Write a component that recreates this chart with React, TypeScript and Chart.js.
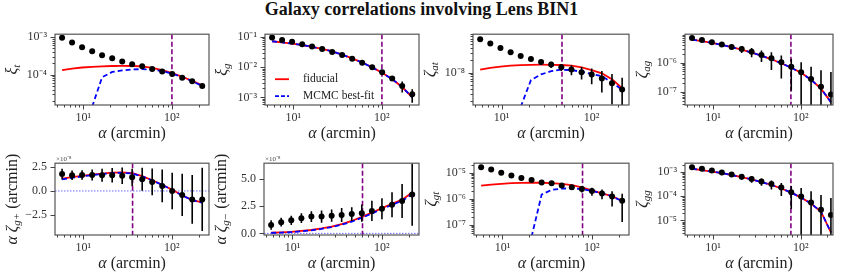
import React, { useEffect, useRef } from "react";
import { Chart, registerables } from "chart.js";

Chart.register(...registerables);

const SERIF = '"Liberation Serif", "Times New Roman", serif';

// angular bins (arcmin)
const alpha = [5.77, 7.48, 9.70, 12.6, 16.3, 21.2, 27.5, 35.6, 46.2, 59.9, 77.7, 100.7, 130.6, 169.4, 219.7];

// xi_t
const xiT = [9.6e-4, 7.2e-4, 5.4e-4, 4.2e-4, 3.3e-4, 2.75e-4, 2.25e-4, 1.9e-4, 1.67e-4, 1.42e-4, 1.22e-4, 1.04e-4, 8.3e-5, 6.7e-5, 5.0e-5];
const xiTErr = [1.9e-5, 1.4e-5, 1.1e-5, 8e-6, 6.6e-6, 5.5e-6, 4.5e-6, 3.8e-6, 3.3e-6, 2.8e-6, 2.4e-6, 2.1e-6, 1.7e-6, 1.5e-6, 1.3e-6];
const xiTFid = [1.32e-4, 1.45e-4, 1.55e-4, 1.62e-4, 1.67e-4, 1.7e-4, 1.71e-4, 1.7e-4, 1.66e-4, 1.52e-4, 1.32e-4, 1.1e-4, 8.8e-5, 6.8e-5, 5.2e-5];
const xiTFit = [null, null, null, 1.4e-5, 8.5e-5, 1.18e-4, 1.3e-4, 1.38e-4, 1.4e-4, 1.37e-4, 1.25e-4, 1.06e-4, 8.6e-5, 6.7e-5, 5.0e-5];

// xi_g
const xiG = [9.5e-2, 7.9e-2, 6.9e-2, 5.75e-2, 4.8e-2, 4.0e-2, 3.16e-2, 2.5e-2, 1.9e-2, 1.41e-2, 1.0e-2, 6.8e-3, 4.2e-3, 2.4e-3, 1.26e-3];
const xiGErr = [3.8e-3, 3.2e-3, 2.8e-3, 2.3e-3, 1.9e-3, 1.6e-3, 1.6e-3, 1.25e-3, 1.1e-3, 1.0e-3, 8e-4, 6.8e-4, 6.7e-4, 9.6e-4, 5.9e-4];
const xiGFid = [7.2e-2, 6.6e-2, 6.0e-2, 5.4e-2, 4.7e-2, 4.0e-2, 3.3e-2, 2.6e-2, 1.95e-2, 1.42e-2, 9.8e-3, 6.5e-3, 4.0e-3, 2.2e-3, 1.0e-3];
const xiGFit = [7.2e-2, 6.6e-2, 6.0e-2, 5.4e-2, 4.7e-2, 4.0e-2, 3.3e-2, 2.6e-2, 1.95e-2, 1.42e-2, 9.8e-3, 6.5e-3, 4.0e-3, 2.2e-3, 1.0e-3];

// zeta_at
const zetaAt = [6.7e-8, 5.3e-8, 4.07e-8, 3.19e-8, 2.6e-8, 2.18e-8, 1.83e-8, 1.58e-8, 1.36e-8, 1.19e-8, 1.02e-8, 8.9e-9, 7.1e-9, 5.4e-9, 3.8e-9];
const zetaAtErr = [6.7e-9, 5.3e-9, 4.1e-9, 3.5e-9, 3.1e-9, 2.8e-9, 2.6e-9, 2.8e-9, 2.7e-9, 3.3e-9, 3.5e-9, 3.8e-9, 3.9e-9, 3.8e-9, 3.6e-9];
const zetaAtFid = [1.19e-8, 1.3e-8, 1.4e-8, 1.48e-8, 1.53e-8, 1.56e-8, 1.57e-8, 1.56e-8, 1.54e-8, 1.48e-8, 1.35e-8, 1.15e-8, 9.6e-9, 6.8e-9, 4.1e-9];
const zetaAtFit = [null, null, null, null, 1.4e-9, 6.5e-9, 9.0e-9, 1.08e-8, 1.18e-8, 1.15e-8, 1.05e-8, 9.3e-9, 8.1e-9, 5.7e-9, 3.7e-9];

// zeta_ag
const zetaAg = [6.95e-6, 5.86e-6, 4.95e-6, 4.18e-6, 3.44e-6, 2.9e-6, 2.33e-6, 1.83e-6, 1.4e-6, 1.02e-6, 7.3e-7, 4.7e-7, 2.77e-7, 1.5e-7, 8.2e-8];
const zetaAgErr = [4.9e-7, 5.9e-7, 6.9e-7, 7.9e-7, 7.6e-7, 7.8e-7, 8.2e-7, 7.7e-7, 8.4e-7, 7.3e-7, 6.2e-7, 5.6e-7, 4.4e-7, 4.05e-7, 4.0e-7];
const zetaAgFid = [6.1e-6, 5.4e-6, 4.7e-6, 4.0e-6, 3.35e-6, 2.75e-6, 2.2e-6, 1.72e-6, 1.3e-6, 9.5e-7, 6.7e-7, 4.5e-7, 2.6e-7, 1.3e-7, 4.5e-8];
const zetaAgFit = [6.1e-6, 5.4e-6, 4.7e-6, 4.0e-6, 3.35e-6, 2.75e-6, 2.2e-6, 1.72e-6, 1.3e-6, 9.5e-7, 6.7e-7, 4.5e-7, 2.6e-7, 1.3e-7, 4.5e-8];

// alpha * zeta_g+  (x 1e-8)
const gPlus = [1.76, 1.64, 1.67, 1.67, 1.64, 1.64, 1.60, 1.42, 1.23, 0.94, 0.53, 0.0, -0.41, -0.88, -0.88];
const gPlusErr = [0.55, 0.5, 0.5, 0.58, 0.69, 0.75, 0.86, 0.9, 1.2, 1.4, 1.7, 1.9, 2.2, 2.55, 3.3];
const gPlusFid = [1.3, 1.45, 1.58, 1.7, 1.82, 1.92, 1.95, 1.85, 1.55, 1.12, 0.65, 0.12, -0.45, -0.95, -1.2];
const gPlusFit = [1.2, 1.37, 1.52, 1.65, 1.77, 1.87, 1.9, 1.82, 1.52, 1.1, 0.63, 0.1, -0.47, -0.97, -1.22];

// alpha * zeta_g-  (x 1e-8)
const gMinus = [0.77, 1.03, 1.2, 1.4, 1.54, 1.54, 1.63, 1.69, 1.77, 1.86, 2.06, 2.26, 2.63, 2.97, 3.57];
const gMinusErr = [0.43, 0.4, 0.43, 0.44, 0.5, 0.57, 0.57, 0.64, 0.63, 0.8, 0.93, 0.97, 1.14, 1.56, 2.86];
const gMinusFid = [0.06, 0.09, 0.14, 0.22, 0.31, 0.45, 0.63, 0.86, 1.14, 1.52, 1.9, 2.32, 2.72, 3.1, 3.75];
const gMinusFit = [0.04, 0.07, 0.12, 0.19, 0.28, 0.41, 0.58, 0.8, 1.07, 1.44, 1.82, 2.24, 2.62, 3.0, 3.6];

// zeta_gt
const zetaGt = [1.62e-5, 1.31e-5, 1.0e-5, 7.8e-6, 6.3e-6, 5.2e-6, 4.2e-6, 3.9e-6, 3.25e-6, 2.75e-6, 2.35e-6, 1.98e-6, 1.6e-6, 1.22e-6, 8.4e-7];
const zetaGtErr = [8.1e-7, 6.6e-7, 5e-7, 4.7e-7, 4.4e-7, 4.2e-7, 3.8e-7, 4.7e-7, 4.9e-7, 5.5e-7, 6.3e-7, 6.7e-7, 6.4e-7, 7.1e-7, 7.1e-7];
const zetaGtFid = [3.2e-6, 3.5e-6, 3.75e-6, 3.95e-6, 4.05e-6, 4.1e-6, 4.1e-6, 4.0e-6, 3.7e-6, 3.3e-6, 2.75e-6, 2.1e-6, 1.6e-6, 1.25e-6, 8.4e-7];
const zetaGtFit = [null, null, null, null, null, 3.5e-8, 1.45e-6, 2.2e-6, 2.45e-6, 2.5e-6, 2.35e-6, 2.0e-6, 1.6e-6, 1.25e-6, 8.0e-7];

// zeta_gg
const zetaGg = [1.6e-3, 1.38e-3, 1.16e-3, 9.7e-4, 7.9e-4, 6.4e-4, 5.2e-4, 4.1e-4, 3.2e-4, 2.3e-4, 1.48e-4, 9.9e-5, 5.5e-5, 2.8e-5, 1.7e-5];
const zetaGgErr = [8e-5, 9.7e-5, 1.16e-4, 1.46e-4, 1.58e-4, 1.6e-4, 1.56e-4, 1.35e-4, 1.28e-4, 1.27e-4, 1.18e-4, 1.19e-4, 1.07e-4, 8.4e-5, 6.8e-5];
const zetaGgFid = [1.38e-3, 1.2e-3, 1.05e-3, 9.1e-4, 7.6e-4, 6.2e-4, 5.0e-4, 3.9e-4, 2.95e-4, 2.1e-4, 1.42e-4, 8.8e-5, 5.0e-5, 2.3e-5, 3.2e-6];
const zetaGgFit = [1.38e-3, 1.2e-3, 1.05e-3, 9.1e-4, 7.6e-4, 6.2e-4, 5.0e-4, 3.9e-4, 2.95e-4, 2.1e-4, 1.42e-4, 8.8e-5, 5.0e-5, 2.3e-5, 3.2e-6];

// scale cuts (vertical lines, arcmin)
const scaleCuts = [100, 100, 47, 77, 36, 61, 79, 77];

const TITLE = "Galaxy correlations involving Lens BIN1";

type Seg = { t: string; it?: boolean; sub?: boolean };

const PADL = 55, PADT = 8, PADR = 8, PADB = 40;
const XMIN = 4.8;

const panels: any[] = [
  { left: 55, top: 27, right: 209, bottom: 105, xMax: 262, log: true, yMin: 1.55e-5, yMax: 1.2e-3,
    data: xiT, err: xiTErr, fid: xiTFid, fit: xiTFit, vline: scaleCuts[0],
    label: [{ t: "ξ", it: true }, { t: "t", it: true, sub: true }] },
  { left: 265, top: 27, right: 419, bottom: 105, xMax: 262, log: true, yMin: 5.6e-4, yMax: 0.123,
    data: xiG, err: xiGErr, fid: xiGFid, fit: xiGFit, vline: scaleCuts[1], legend: true,
    label: [{ t: "ξ", it: true }, { t: "g", it: true, sub: true }] },
  { left: 473, top: 27, right: 629, bottom: 105, xMax: 262, log: true, yMin: 1.56e-9, yMax: 9.0e-8,
    data: zetaAt, err: zetaAtErr, fid: zetaAtFid, fit: zetaAtFit, vline: scaleCuts[2],
    label: [{ t: "ζ", it: true }, { t: "at", it: true, sub: true }] },
  { left: 685, top: 27, right: 833, bottom: 105, xMax: 232, log: true, yMin: 3.6e-8, yMax: 9.3e-6,
    data: zetaAg, err: zetaAgErr, fid: zetaAgFid, fit: zetaAgFit, vline: scaleCuts[3],
    label: [{ t: "ζ", it: true }, { t: "ag", it: true, sub: true }] },
  { left: 55, top: 156, right: 209, bottom: 235, xMax: 262, log: false, yMin: -4.6, yMax: 2.9, linTicks: [-2.5, 0, 2.5],
    data: gPlus, err: gPlusErr, fid: gPlusFid, fit: gPlusFit, vline: scaleCuts[4], zeroLine: true, offsetText: "×10⁻⁸",
    label: [{ t: "α ζ", it: true }, { t: "g+", it: true, sub: true }, { t: " (arcmin)" }] },
  { left: 264, top: 156, right: 419, bottom: 235, xMax: 262, log: false, yMin: -0.15, yMax: 6.45, linTicks: [0, 2.5, 5],
    data: gMinus, err: gMinusErr, fid: gMinusFid, fit: gMinusFit, vline: scaleCuts[5], zeroLine: true, offsetText: "×10⁻⁸",
    label: [{ t: "α ζ", it: true }, { t: "g−", it: true, sub: true }, { t: " (arcmin)" }] },
  { left: 474, top: 156, right: 629, bottom: 235, xMax: 262, log: true, yMin: 4.1e-8, yMax: 2.3e-5,
    data: zetaGt, err: zetaGtErr, fid: zetaGtFid, fit: zetaGtFit, vline: scaleCuts[6],
    label: [{ t: "ζ", it: true }, { t: "gt", it: true, sub: true }] },
  { left: 685, top: 156, right: 833, bottom: 235, xMax: 232, log: true, yMin: 2.5e-6, yMax: 2.34e-3,
    data: zetaGg, err: zetaGgErr, fid: zetaGgFid, fit: zetaGgFit, vline: scaleCuts[7],
    label: [{ t: "ζ", it: true }, { t: "gg", it: true, sub: true }] },
];

const SUP: Record<string, string> = { "-": "⁻", "0": "⁰", "1": "¹", "2": "²", "3": "³", "4": "⁴", "5": "⁵", "6": "⁶", "7": "⁷", "8": "⁸", "9": "⁹" };
const sup = (n: number) => String(n).split("").map((c) => SUP[c] || c).join("");

function isDecade(v: number) {
  const e = Math.round(Math.log10(v));
  return Math.abs(v / Math.pow(10, e) - 1) < 1e-6;
}
function logLabel(v: number) {
  return isDecade(v) ? "10" + sup(Math.round(Math.log10(v))) : "";
}
function logTickValues(min: number, max: number) {
  const out: number[] = [];
  for (let n = Math.floor(Math.log10(min)); n <= Math.ceil(Math.log10(max)); n++) {
    for (let k = 1; k <= 9; k++) {
      const v = k * Math.pow(10, n);
      if (v >= min * 0.99999 && v <= max * 1.00001) out.push(v);
    }
  }
  return out;
}

function drawRich(ctx: any, segs: Seg[], x: number, y: number, size: number, rotate: boolean) {
  ctx.save();
  ctx.translate(x, y);
  if (rotate) ctx.rotate(-Math.PI / 2);
  const fontFor = (s: Seg) => `${s.it ? "italic " : ""}${s.sub ? Math.round(size * 0.7) : size}px ${SERIF}`;
  let total = 0;
  const widths = segs.map((s) => {
    ctx.font = fontFor(s);
    const w = ctx.measureText(s.t).width;
    total += w;
    return w;
  });
  let cx = -total / 2;
  ctx.textBaseline = "alphabetic";
  ctx.textAlign = "left";
  ctx.fillStyle = "#222";
  segs.forEach((s, i) => {
    ctx.font = fontFor(s);
    ctx.fillText(s.t, cx, s.sub ? size * 0.3 + size * 0.22 : size * 0.3);
    cx += widths[i];
  });
  ctx.restore();
}

function makePlugin(p: any) {
  return {
    id: "decor",
    beforeDatasetsDraw(chart: any) {
      const { ctx, chartArea: ca, scales } = chart;
      if (!p.zeroLine) return;
      ctx.save();
      ctx.beginPath();
      ctx.rect(ca.left, ca.top, ca.right - ca.left, ca.bottom - ca.top);
      ctx.clip();
      const y0 = scales.y.getPixelForValue(0);
      ctx.strokeStyle = "rgba(70,70,255,0.8)";
      ctx.lineWidth = 1;
      ctx.setLineDash([1.5, 1.5]);
      ctx.beginPath();
      ctx.moveTo(ca.left, y0);
      ctx.lineTo(ca.right, y0);
      ctx.stroke();
      ctx.restore();
    },
    beforeDatasetDraw(chart: any, args: any) {
      if (args.index !== 0) return;
      const { ctx, chartArea: ca, scales } = chart;
      ctx.save();
      ctx.beginPath();
      ctx.rect(ca.left, ca.top, ca.right - ca.left, ca.bottom - ca.top);
      ctx.clip();
      // scale-cut line
      const xv = scales.x.getPixelForValue(p.vline);
      ctx.strokeStyle = "#800080";
      ctx.lineWidth = 1.6;
      ctx.setLineDash([5, 2.5]);
      ctx.beginPath();
      ctx.moveTo(xv, ca.top);
      ctx.lineTo(xv, ca.bottom);
      ctx.stroke();
      // error bars
      ctx.setLineDash([]);
      ctx.strokeStyle = "#000";
      ctx.lineWidth = 1.6;
      alpha.forEach((x, i) => {
        const v = p.data[i], e = p.err[i];
        const px = scales.x.getPixelForValue(x);
        const top = scales.y.getPixelForValue(v + e);
        const lo = v - e;
        const bot = p.log && lo <= 0 ? ca.bottom + 10 : scales.y.getPixelForValue(lo);
        ctx.beginPath();
        ctx.moveTo(px, top);
        ctx.lineTo(px, bot);
        ctx.stroke();
      });
      ctx.restore();
    },
    afterDraw(chart: any) {
      const { ctx, chartArea: ca, scales } = chart;
      ctx.save();
      // frame
      ctx.strokeStyle = "#555";
      ctx.lineWidth = 1.2;
      ctx.strokeRect(ca.left, ca.top, ca.right - ca.left, ca.bottom - ca.top);
      // tick marks
      ctx.strokeStyle = "#444";
      ctx.lineWidth = 1;
      scales.x.ticks.forEach((t: any) => {
        const px = Math.round(scales.x.getPixelForValue(t.value)) + 0.5;
        const len = isDecade(t.value) ? 4.5 : 2.5;
        ctx.beginPath();
        ctx.moveTo(px, ca.bottom);
        ctx.lineTo(px, ca.bottom + len);
        ctx.stroke();
      });
      scales.y.ticks.forEach((t: any) => {
        const py = Math.round(scales.y.getPixelForValue(t.value)) + 0.5;
        const len = !p.log || isDecade(t.value) ? 4.5 : 2.5;
        ctx.beginPath();
        ctx.moveTo(ca.left, py);
        ctx.lineTo(ca.left - len, py);
        ctx.stroke();
      });
      // axis titles
      drawRich(ctx, [{ t: "α", it: true }, { t: " (arcmin)" }], (ca.left + ca.right) / 2, ca.bottom + 28, 16, false);
      drawRich(ctx, p.label, ca.left - 43, (ca.top + ca.bottom) / 2, 16, true);
      // offset text
      if (p.offsetText) {
        ctx.fillStyle = "#444";
        ctx.font = `7px ${SERIF}`;
        ctx.textAlign = "left";
        ctx.textBaseline = "bottom";
        ctx.fillText(p.offsetText, ca.left + 1, ca.top - 1);
      }
      // legend
      if (p.legend) {
        const lx = ca.left + 10, ly1 = ca.top + 45, ly2 = ca.top + 62;
        ctx.lineWidth = 1.8;
        ctx.strokeStyle = "#ff0000";
        ctx.beginPath();
        ctx.moveTo(lx, ly1);
        ctx.lineTo(lx + 14, ly1);
        ctx.stroke();
        ctx.strokeStyle = "#0000ff";
        ctx.setLineDash([4, 2]);
        ctx.beginPath();
        ctx.moveTo(lx, ly2);
        ctx.lineTo(lx + 14, ly2);
        ctx.stroke();
        ctx.setLineDash([]);
        ctx.fillStyle = "#222";
        ctx.font = `11.5px ${SERIF}`;
        ctx.textAlign = "left";
        ctx.textBaseline = "middle";
        ctx.fillText("fiducial", lx + 28, ly1);
        ctx.fillText("MCMC best-fit", lx + 28, ly2);
      }
      ctx.restore();
    },
  };
}

const pts = (arr: (number | null)[]) =>
  alpha.map((x, i) => ({ x, y: arr[i] })).filter((d) => d.y !== null && d.y !== undefined);

function PanelChart({ p }: { p: any }) {
  const ref = useRef<HTMLCanvasElement>(null);
  const W = p.right - p.left + PADL + PADR;
  const H = p.bottom - p.top + PADT + PADB;
  useEffect(() => {
    const tickFont = { family: SERIF, size: 12 };
    const yScale: any = p.log
      ? {
          type: "logarithmic",
          min: p.yMin,
          max: p.yMax,
          bounds: "data",
          afterBuildTicks: (s: any) => {
            s.ticks = logTickValues(p.yMin, p.yMax).map((v) => ({ value: v }));
          },
          ticks: { autoSkip: false, padding: 8, color: "#333", font: tickFont, callback: (v: any) => logLabel(Number(v)) },
        }
      : {
          type: "linear",
          min: p.yMin,
          max: p.yMax,
          bounds: "data",
          afterBuildTicks: (s: any) => {
            s.ticks = p.linTicks.map((v: number) => ({ value: v }));
          },
          ticks: {
            autoSkip: false,
            padding: 8,
            color: "#333",
            font: tickFont,
            callback: (v: any) => Number(v).toFixed(1).replace("-", "−"),
          },
        };
    yScale.grid = { display: false, drawTicks: false };
    yScale.border = { display: false };
    yScale.afterFit = (s: any) => {
      s.width = PADL;
    };
    const chart = new Chart(ref.current as HTMLCanvasElement, {
      type: "scatter",
      data: {
        datasets: [
          {
            label: "data",
            data: pts(p.data),
            pointRadius: 3,
            pointBackgroundColor: "#000",
            pointBorderColor: "#000",
            pointBorderWidth: 0,
            showLine: false,
            order: 0,
          },
          {
            label: "MCMC best-fit",
            data: pts(p.fit),
            showLine: true,
            borderColor: "#0000ff",
            borderDash: [5, 3],
            borderWidth: 1.8,
            pointRadius: 0,
            order: 1,
          },
          {
            label: "fiducial",
            data: pts(p.fid),
            showLine: true,
            borderColor: "#ff0000",
            borderWidth: 1.8,
            pointRadius: 0,
            order: 2,
          },
        ],
      } as any,
      options: {
        responsive: false,
        animation: false,
        devicePixelRatio: 1,
        layout: { padding: { left: 0, top: PADT, right: PADR, bottom: 0 } },
        plugins: { legend: { display: false }, tooltip: { enabled: false } },
        events: [],
        scales: {
          x: {
            type: "logarithmic",
            min: XMIN,
            max: p.xMax,
            bounds: "data",
            afterBuildTicks: (s: any) => {
              s.ticks = logTickValues(XMIN, p.xMax).map((v) => ({ value: v }));
            },
            ticks: {
              autoSkip: false,
              maxRotation: 0,
              padding: 6,
              color: "#333",
              font: tickFont,
              callback: (v: any) => logLabel(Number(v)),
            },
            grid: { display: false, drawTicks: false },
            border: { display: false },
            afterFit: (s: any) => {
              s.height = PADB;
            },
          } as any,
          y: yScale,
        },
      } as any,
      plugins: [makePlugin(p)],
    });
    return () => chart.destroy();
  }, []);
  return (
    <canvas
      ref={ref}
      width={W}
      height={H}
      style={{ position: "absolute", left: p.left - PADL, top: p.top - PADT, width: W, height: H }}
    />
  );
}

export default function App() {
  return (
    <div style={{ position: "absolute", left: 0, top: 0, width: 843, height: 278, background: "#fff", overflow: "hidden" }}>
      <div
        style={{
          position: "absolute",
          left: 0,
          top: -1,
          width: 843,
          textAlign: "center",
          font: `bold 18px ${SERIF}`,
          lineHeight: "20px",
          color: "#111",
        }}
      >
        {TITLE}
      </div>
      {panels.map((p, i) => (
        <PanelChart key={i} p={p} />
      ))}
    </div>
  );
}
